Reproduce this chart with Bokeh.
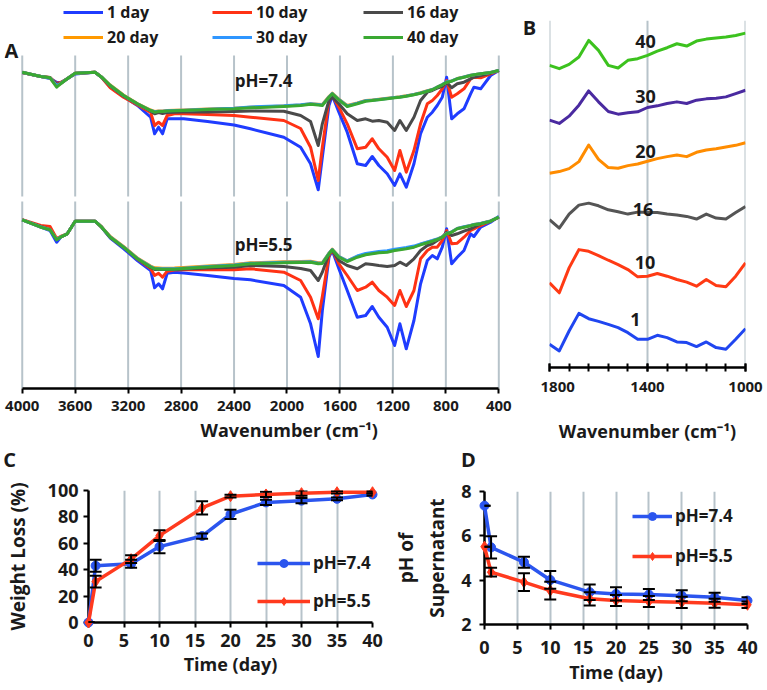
from bokeh.plotting import figure
from bokeh.models import (Range1d, FixedTicker, Legend, LegendItem, Label, Title,
                          Whisker, TeeHead, ColumnDataSource)
from bokeh.layouts import column, row
from bokeh.embed import file_html
from bokeh.resources import INLINE

# ---------------- data: panel A (FTIR, offset-stacked, signal in a.u., larger = lower) -------------
WN = [4000, 3860, 3790, 3740, 3710, 3660, 3600, 3450, 3400, 3335,
      3235, 3130, 3030, 3000, 2970, 2940, 2905, 2850, 2780, 2600,
      2400, 2276, 2024, 1897, 1822, 1764, 1733, 1683, 1658, 1608,
      1545, 1469, 1406, 1356, 1306, 1243, 1187, 1147, 1099, 1041,
      991, 940, 902, 865, 827, 794, 756, 714, 663, 613,
      588, 537, 462, 400]

d1_74 = [72, 76, 78, 81.7, 82, 78.3, 73.5, 71.7, 76.7, 86.5,
         96, 105, 116.7, 133.3, 126.7, 133.3, 118.3, 118.3, 118.3, 121,
         124.5, 128.3, 136.7, 146.7, 163.3, 189.3, 156.7, 105, 95, 111.7,
         131.7, 163.3, 165, 156, 165, 173.3, 185, 173.3, 186.7, 163.3,
         133.3, 116.7, 111.7, 105, 96.7, 76.7, 118.3, 113.3, 108.3, 93.3,
         86.7, 88.3, 75, 70]
d10_74 = [72, 76, 77, 83, 82, 78.3, 72.7, 71.7, 77, 87.3,
          96.7, 104.5, 112, 125, 121.7, 125, 115, 113.3, 113.3, 114,
          115, 116.7, 120, 128, 146.7, 180, 146.7, 100, 95, 106.7,
          123.3, 148.3, 146.7, 138.3, 148.3, 156.7, 170, 150, 171.7, 150,
          123.3, 103.3, 100, 95, 88.3, 80, 96.7, 93.3, 88.3, 78.3,
          76.7, 77.3, 73.3, 70]
d16_74 = [72, 76, 77, 84, 83, 78.3, 72.7, 71.7, 76.7, 85.5,
          95.5, 103.5, 110.5, 113.3, 112, 113, 112, 111.7, 111.5, 111.5,
          111, 110.5, 110.7, 115, 121, 145, 123.3, 100, 96.7, 103.3,
          113.3, 120, 118.3, 120.7, 120, 121.7, 130, 120, 130, 116.7,
          100, 91.7, 90, 87.7, 86, 81.7, 87.3, 83.3, 81.7, 78.3,
          76.7, 75, 72.7, 70]
d20_74 = [71.7, 76, 77.5, 85.5, 83, 78.3, 72.7, 71.7, 76.5, 84.5,
          94.5, 103, 109.5, 111, 110.5, 110.5, 110, 109.8, 109.5, 108.5,
          107.8, 106.8, 105.5, 104.5, 103.3, 103.8, 104, 96, 92.7, 98.7,
          105, 102.5, 100, 99.5, 98.8, 97.8, 97, 96.3, 95.3, 94,
          92.3, 90.3, 89, 86.5, 84, 81.5, 80.5, 78, 76.5, 74.8,
          74.2, 73.2, 72, 70]
d30_74 = [71.7, 76, 77.5, 85, 83, 78.3, 72.7, 71.7, 76.7, 85,
          95, 103.3, 110, 111.3, 110.8, 110.8, 110.3, 110, 109.7, 108.7,
          107.8, 106.5, 105.3, 104.3, 103.3, 104, 104.5, 96.5, 93, 99,
          105.5, 102.8, 100.3, 99.7, 99, 98, 97, 96.5, 95.5, 94,
          92.5, 90.5, 89, 86.5, 84, 81.2, 80.5, 78.2, 76.5, 74.8,
          74.2, 73.2, 72, 70]
d40_74 = [71.7, 76, 77.3, 86.7, 83.3, 78.3, 72.7, 71.7, 76.7, 85,
          95, 103.3, 110, 111.7, 111, 111, 110.5, 110.3, 110, 109,
          108.3, 107.3, 106, 105, 103.8, 104.5, 105, 96.7, 93.3, 99.3,
          106, 103.3, 100.7, 100, 99.3, 98.3, 97.3, 96.7, 95.7, 94.3,
          92.7, 90.7, 89.3, 86.7, 84.3, 81.7, 80.7, 78.3, 76.7, 75,
          74.3, 73.3, 72, 70]

d1_55 = [219.3, 226.7, 230, 241.7, 236.7, 233.3, 220.7, 220.7, 226.7, 237.5,
         248, 260, 270, 287.3, 283.3, 288.3, 272.7, 271.7, 272.5, 275,
         278, 279.3, 285, 296.7, 323.3, 356, 310, 256.7, 250, 268.3,
         290, 316.7, 315, 306, 316.7, 326.7, 345, 323.3, 348.3, 320,
         283.3, 260, 255, 258.3, 246.7, 228.3, 263.3, 256.7, 250, 233.3,
         236, 226.7, 221.7, 216]
d10_55 = [219.3, 225, 226, 238, 236, 233.3, 220.7, 220.7, 226.7, 236.7,
          246.7, 258.5, 268, 275, 272.7, 276.7, 270.7, 269.5, 269.3, 269.3,
          269.3, 268.3, 271.7, 280, 296.7, 318.3, 296, 255, 249.3, 263.3,
          275, 290, 286.7, 281.7, 290, 296.7, 305, 290, 306, 290,
          258.3, 250, 246.7, 246.7, 240, 230, 243.3, 242.7, 236.7, 230,
          228.3, 225, 220.7, 216.7]
d16_55 = [219.3, 226, 229, 239, 236.5, 233.3, 220.7, 220.7, 226.7, 236.7,
          246.7, 258.3, 267, 269, 269, 269, 269, 269, 268.5, 267.5,
          266.7, 265, 266, 268, 270, 280, 271.7, 253.3, 250, 260,
          265, 268.3, 263.3, 264, 265, 266, 265, 261.7, 265, 258.3,
          250, 245, 243.3, 240, 236.7, 231.7, 235, 233.3, 230.7, 228.3,
          226.7, 223.3, 220.7, 216.7]
d20_55 = [219.3, 226.5, 229, 238.5, 236.5, 233.3, 220.7, 220.7, 226.5, 236,
          246, 257.5, 265.5, 267.3, 267.5, 267.7, 267.7, 267.5, 267, 265.5,
          264, 262.3, 261.3, 261, 260.7, 262.3, 262, 252.7, 248.7, 256,
          260.3, 256, 253.7, 252.7, 251.7, 251, 249.5, 248.7, 247.7, 246.2,
          243.8, 241.8, 240.3, 238.7, 236.3, 233, 231.3, 228, 226.5, 225,
          224, 223, 220.5, 216.5]
d30_55 = [219.3, 226.5, 229.3, 239, 236.5, 233.3, 220.7, 220.7, 226.7, 236.5,
          246.5, 258, 266, 268, 268.2, 268.3, 268.3, 268.3, 267.7, 266,
          264.5, 262.8, 261.8, 261.5, 261.2, 262.8, 262.5, 252.8, 249, 256.2,
          260.3, 255.5, 253, 252, 251, 250.3, 248.8, 248, 247, 245.6,
          243.5, 241.5, 240, 238.5, 236.3, 233, 231.3, 228, 226.3, 225,
          224, 223, 220.5, 216.3]
d40_55 = [219.3, 226.7, 229.3, 239.3, 236.7, 233.3, 220.7, 220.7, 226.7, 236.7,
          246.7, 258.3, 266.5, 268.3, 268.5, 268.7, 268.7, 268.7, 268, 266.5,
          265, 263.3, 262.3, 262, 261.7, 263.3, 263, 253.3, 249.3, 256.7,
          261, 256.7, 254.3, 253.3, 252.3, 251.7, 250, 249.3, 248.3, 246.7,
          244.3, 242.3, 240.7, 239, 236.7, 233.3, 231.7, 228.3, 226.7, 225.3,
          224.3, 223.3, 220.7, 216.7]

A_LABELS = ["1 day", "10 day", "16 day", "20 day", "30 day", "40 day"]
A_TICKS = [4000, 3600, 3200, 2800, 2400, 2000, 1600, 1200, 800, 400]

# ---------------- data: panel B (1800-1000 cm-1 zoom, offset-stacked a.u.) ----------------
WB = [1800, 1760, 1720, 1680, 1640, 1600, 1560, 1520, 1480, 1440, 1400,
      1360, 1320, 1280, 1240, 1200, 1160, 1120, 1080, 1040, 1000]
b1 = [1035, 1055, 995, 942, 958, 966, 975, 985, 1000, 1020, 1020,
      1008, 1015, 1028, 1030, 1042, 1028, 1045, 1050, 1020, 988]
b10 = [850, 880, 805, 750, 755, 768, 782, 795, 810, 832, 830,
       822, 830, 840, 848, 860, 840, 858, 862, 830, 790]
b16 = [660, 685, 643, 616, 610, 618, 630, 636, 643, 637, 638,
       638, 643, 646, 650, 658, 643, 655, 658, 638, 620]
b20 = [520, 515, 506, 485, 435, 478, 503, 505, 497, 492, 484,
       476, 470, 465, 470, 457, 450, 446, 441, 436, 428]
b30 = [360, 370, 348, 315, 272, 305, 334, 342, 338, 335, 322,
       317, 310, 305, 310, 300, 296, 294, 290, 280, 270]
b40 = [195, 205, 192, 170, 120, 150, 195, 203, 180, 175, 165,
       152, 142, 130, 137, 122, 116, 113, 110, 105, 98]
B_NAMES = ["1", "10", "16", "20", "30", "40"]
B_TICKS = [1800, 1400, 1000]
B_MINOR = [1800, 1720, 1640, 1560, 1480, 1400, 1320, 1240, 1160, 1080, 1000]

# ---------------- data: panels C and D ----------------
days = [0, 1, 6, 10, 16, 20, 25, 30, 35, 40]
wl74 = [0, 43, 44.5, 57.5, 65.5, 82, 91, 92.3, 93.7, 97]
wl55 = [0, 31, 48, 65.8, 86.8, 95.7, 97, 98, 98.7, 98.7]
wl74_err = [0, 4.5, 3, 5, 2, 3.5, 2, 2, 1, 1]
wl55_err = [0, 4.5, 3, 4, 5, 1, 2, 2, 1, 1]

ph74 = [7.36, 5.48, 4.81, 4.01, 3.46, 3.38, 3.35, 3.30, 3.23, 3.08]
ph55 = [5.51, 4.36, 3.91, 3.53, 3.16, 3.08, 3.04, 3.00, 2.96, 2.89]
ph74_err = [0, 0.5, 0.25, 0.4, 0.35, 0.3, 0.25, 0.25, 0.2, 0.15]
ph55_err = [0, 0.2, 0.4, 0.4, 0.3, 0.25, 0.25, 0.25, 0.2, 0.15]
TIME_TICKS = [0, 5, 10, 15, 20, 25, 30, 35, 40]

# ---------------- styles ----------------
FONT = "Open Sans"
TXT = "#1a1a1a"
GRID = "#b7c3ca"
A_COLORS = ["#1f3cff", "#ff3214", "#4a4a4a", "#ff9900", "#2f96ff", "#3aa832"]
B_COLORS = ["#2046f0", "#ff3a14", "#555555", "#ff8c00", "#4a2aa0", "#3cc21e"]
BLUE = "#2b55ee"
RED = "#ff3a1e"


def base(w, h, xr, yr, lb, rb, tb, bb):
    p = figure(width=w, height=h, x_range=xr, y_range=yr, output_backend="svg",
               toolbar_location=None, min_border_left=lb, min_border_right=rb,
               min_border_top=tb, min_border_bottom=bb)
    p.frame_align = False
    p.outline_line_color = None
    p.background_fill_color = "white"
    p.border_fill_color = "white"
    return p


def style_axis(ax, size, tin, tout, standoff):
    ax.axis_line_color = "black"
    ax.axis_line_width = 2.5
    ax.major_tick_line_color = "black"
    ax.major_tick_line_width = 2
    ax.major_tick_in = tin
    ax.major_tick_out = tout
    ax.minor_tick_line_color = None
    ax.major_label_text_font = FONT
    ax.major_label_text_font_style = "bold"
    ax.major_label_text_font_size = f"{size}px"
    ax.major_label_text_color = TXT
    ax.major_label_standoff = standoff
    ax.axis_label_text_font = FONT
    ax.axis_label_text_font_style = "bold"
    ax.axis_label_text_font_size = "18px"
    ax.axis_label_text_color = TXT


def label(p, x, y, text, size, angle=0.0):
    p.add_layout(Label(x=x, y=y, text=text, text_font=FONT, text_font_style="bold",
                       text_font_size=f"{size}px", text_color=TXT, text_align="center",
                       text_baseline="middle", angle=angle))


def vgrid(p, ticks, y0, y1):
    p.segment(x0=ticks, y0=[y0] * len(ticks), x1=ticks, y1=[y1] * len(ticks),
              line_color=GRID, line_width=2, level="underlay")


# ---------------- Panel A (its frame also hosts the panel letters A and B) ----------------
pA = base(540, 445, Range1d(4134, 85), Range1d(388, 0), 4, 0, 0, 57)
pA.yaxis.visible = False
pA.xgrid.visible = False
pA.ygrid.visible = False
pA.xaxis.ticker = FixedTicker(ticks=A_TICKS)
pA.xaxis.bounds = (400, 4000)
style_axis(pA.xaxis[0], 15, 0, 5, 7)
vgrid(pA, A_TICKS, 55, 196)
vgrid(pA, A_TICKS, 201, 388)

series74 = [d1_74, d10_74, d16_74, d20_74, d30_74, d40_74]
series55 = [d1_55, d10_55, d16_55, d20_55, d30_55, d40_55]
rA = []
for ys, col in zip(series74, A_COLORS):
    rA.append(pA.line(WN, ys, line_color=col, line_width=3, line_join="round"))
for ys, col in zip(series55, A_COLORS):
    pA.line(WN, ys, line_color=col, line_width=3, line_join="round")

for idx, vx in zip([(0, 3), (1, 4), (2, 5)], [59, 208, 359]):
    items = [LegendItem(label=A_LABELS[i], renderers=[rA[i]]) for i in idx]
    lg = Legend(items=items, location=(vx, 340), orientation="vertical",
                glyph_width=40, glyph_height=20, label_height=20, spacing=3,
                padding=0, margin=0, label_standoff=4, border_line_color=None,
                background_fill_alpha=0, label_text_font=FONT,
                label_text_font_style="bold", label_text_font_size="16px",
                label_text_color=TXT)
    pA.add_layout(lg)

label(pA, 2177, 80, "pH=7.4", 17)
label(pA, 2177, 244, "pH=5.5", 17)
label(pA, 4081, 50, "A", 20)
label(pA, 168, 27, "B", 20)
pA.add_layout(Title(text="Wavenumber (cm⁻¹)", align="left", offset=196, standoff=4,
                    text_font=FONT, text_font_style="bold", text_font_size="18px",
                    text_color=TXT), "below")

# ---------------- Panel B ----------------
pB = base(225, 445, Range1d(1800, 1000), Range1d(1105, 60), 9, 20, 20, 77)
pB.yaxis.visible = False
pB.xgrid.visible = False
pB.ygrid.visible = False
pB.xaxis.ticker = FixedTicker(ticks=B_TICKS, minor_ticks=B_MINOR)
style_axis(pB.xaxis[0], 15, 4, 4, 10)
pB.xaxis.minor_tick_line_color = "black"
pB.xaxis.minor_tick_line_width = 2
pB.xaxis.minor_tick_in = 4
pB.xaxis.minor_tick_out = 4
pB.xaxis.axis_label = "Wavenumber (cm⁻¹)"
pB.xaxis.axis_label_standoff = 24
vgrid(pB, B_TICKS, 60, 1105)

for ys, col in zip([b1, b10, b16, b20, b30, b40], B_COLORS):
    pB.line(WB, ys, line_color=col, line_width=3, line_join="round")
for name, bx, by in zip(B_NAMES, [1449, 1410, 1418, 1408, 1408, 1408],
                        [960, 790, 628, 455, 288, 123]):
    label(pB, bx, by, name, 18)


# ---------------- Panels C and D ----------------
def time_panel(p, y74, y55, e74, e55, yticks, glyph_w, loc, spacing):
    p.xaxis.ticker = FixedTicker(ticks=TIME_TICKS)
    p.yaxis.ticker = FixedTicker(ticks=yticks)
    p.xgrid.ticker = FixedTicker(ticks=TIME_TICKS[1:])
    p.xgrid.grid_line_color = GRID
    p.xgrid.grid_line_width = 2
    p.ygrid.visible = False
    src = ColumnDataSource(dict(d=days, a=y74, b=y55,
                                alo=[v - e for v, e in zip(y74, e74)],
                                ahi=[v + e for v, e in zip(y74, e74)],
                                blo=[v - e for v, e in zip(y55, e55)],
                                bhi=[v + e for v, e in zip(y55, e55)]))
    l1 = p.line("d", "a", source=src, line_color=BLUE, line_width=3.5, level="overlay")
    s1 = p.scatter("d", "a", source=src, marker="circle", size=9, color=BLUE, level="overlay")
    l2 = p.line("d", "b", source=src, line_color=RED, line_width=3.5, level="overlay")
    s2 = p.scatter("d", "b", source=src, marker="diamond", size=11, color=RED, level="overlay")
    for lo, hi in (("alo", "ahi"), ("blo", "bhi")):
        w = Whisker(source=src, base="d", lower=lo, upper=hi, dimension="height",
                    line_color="black", line_width=2, level="overlay",
                    upper_head=TeeHead(size=12, line_width=2, line_color="black"),
                    lower_head=TeeHead(size=12, line_width=2, line_color="black"))
        p.add_layout(w)
    lg = Legend(items=[LegendItem(label="pH=7.4", renderers=[l1, s1]),
                       LegendItem(label="pH=5.5", renderers=[l2, s2])],
                location=loc, orientation="vertical", glyph_width=glyph_w,
                glyph_height=20, label_height=20, spacing=spacing, padding=0,
                margin=0, label_standoff=3, border_line_color=None,
                background_fill_alpha=0, label_text_font=FONT,
                label_text_font_style="bold", label_text_font_size="17px",
                label_text_color=TXT)
    p.add_layout(lg)


# strip carrying the panel letters C and D (pixel-like coordinates)
strip = base(765, 31, Range1d(0, 765), Range1d(31, 0), 0, 0, 0, 0)
strip.xaxis.visible = False
strip.yaxis.visible = False
strip.xgrid.visible = False
strip.ygrid.visible = False
label(strip, 9, 14, "C", 20)
label(strip, 468, 14, "D", 20)

pC = base(390, 212, Range1d(0, 40), Range1d(0, 100), 88, 18, 14, 66)
style_axis(pC.xaxis[0], 18, 0, 5, 6)
style_axis(pC.yaxis[0], 18, 0, 5, 5)
pC.xaxis.axis_label = "Time (day)"
pC.xaxis.axis_label_standoff = 2
pC.yaxis.axis_label = "Weight Loss (%)"
pC.yaxis.axis_label_text_font_size = "19px"
pC.yaxis.axis_label_standoff = 14
time_panel(pC, wl74, wl55, wl74_err, wl55_err, [0, 20, 40, 60, 80, 100], 53, (169, 10), 15)

pD = base(375, 212, Range1d(0, 40), Range1d(2, 8), 90, 18, 15, 64)
style_axis(pD.xaxis[0], 18, 0, 5, 11)
style_axis(pD.yaxis[0], 18, 0, 5, 8)
pD.xaxis.axis_label = "Time (day)"
pD.xaxis.axis_label_standoff = 3
pD.yaxis.axis_label = "pH of\nSupernatant"
pD.yaxis.axis_label_text_font_size = "19px"
pD.yaxis.axis_label_standoff = 8
time_panel(pD, ph74, ph55, ph74_err, ph55_err, [2, 4, 6, 8], 40, (148, 57), 17)

layout = column(row(pA, pB), strip, row(pC, pD))
open("out.html", "w").write(file_html(layout, INLINE))
